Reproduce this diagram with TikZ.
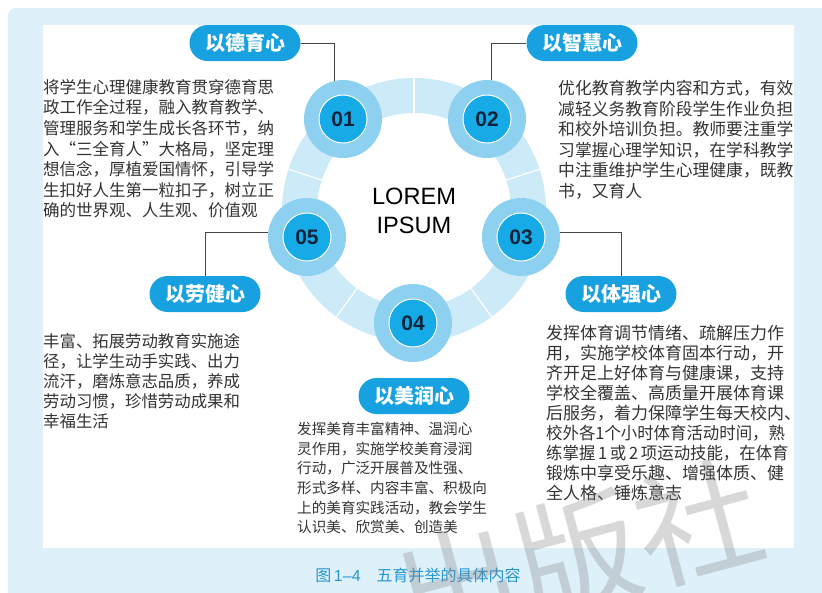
\documentclass[tikz,border=0pt]{standalone}
\usepackage{fontspec}
\setmainfont{Noto Sans CJK SC}
\newfontfamily\latf{Liberation Sans}
\usetikzlibrary{calc}
\definecolor{framebg}{RGB}{222,241,250}
\definecolor{ringblue}{RGB}{205,234,248}
\definecolor{circout}{RGB}{141,208,240}
\definecolor{circin}{RGB}{22,171,230}
\definecolor{pillblue}{RGB}{24,161,224}
\definecolor{conn}{RGB}{70,70,70}
\definecolor{txt}{RGB}{51,51,51}
\definecolor{numc}{RGB}{12,35,60}
\definecolor{capblue}{RGB}{40,150,212}
\begin{document}
\begin{tikzpicture}[x=1pt,y=-1pt,
  outerc/.style={circle,fill=circout,minimum size=78pt,inner sep=0pt},
  innerc/.style={circle,fill=circin,draw=white,line width=1pt,minimum size=48pt,inner sep=0pt,
    text=numc,font=\latf\bfseries\fontsize{21pt}{24pt}\selectfont},
  pill/.style={fill=pillblue,rounded corners=18pt,minimum width=111pt,minimum height=36pt,
    inner sep=0pt,text=white,font=\bfseries\fontsize{20pt}{24pt}\selectfont},
  body/.style={anchor=north west,inner sep=0pt,align=left,text=txt},
  connector/.style={draw=conn,line width=0.9pt}]
\useasboundingbox (0,0) rectangle (822,592);
\fill[white] (0,0) rectangle (822,592);
\fill[framebg,rounded corners=8pt] (8,8) rectangle (850,620);
\fill[white] (43,25) rectangle (794,548);
% ring
\coordinate (ring) at (414,210);
\fill[ringblue,even odd rule] (ring) circle[radius=132pt] (ring) circle[radius=97pt];
\foreach \a in {90,18,-54,-126,162}
  \draw[white,line width=1.2pt] ($(ring)+(-\a:96)$) -- ($(ring)+(-\a:133)$);
% circles
\node[outerc] (c1) at (343,119) {};
\node[outerc] (c2) at (487,119) {};
\node[outerc] (c3) at (521,237) {};
\node[outerc] (c4) at (413,323) {};
\node[outerc] (c5) at (307,237) {};
\node[innerc] (n1) at (c1) {01};
\node[innerc] (n2) at (c2) {02};
\node[innerc] (n3) at (c3) {03};
\node[innerc] (n4) at (c4) {04};
\node[innerc] (n5) at (c5) {05};
% centre text
\node[text={RGB:red,34;green,34;blue,34},font=\latf\fontsize{23.6pt}{29pt}\selectfont,align=center,inner sep=0pt] (center) at (414,211) {LOREM\\IPSUM};
% pills
\node[pill] (p1) at (245,43) {以德育心};
\node[pill] (p2) at (582,43) {以智慧心};
\node[pill] (p3) at (621,294) {以体强心};
\node[pill] (p4) at (414,396) {以美润心};
\node[pill] (p5) at (205,294) {以劳健心};
% connectors
\draw[connector] (p1.east) -| (c1.103);
\draw[connector] (p2.west) -| (c2.84);
\draw[connector] (c3.6) -| (p3.north);
\draw[connector] (c5.174) -| (p5.north);
% text blocks
\node[body,font=\fontsize{16.5pt}{20.6pt}\selectfont] (t1) at (43,79) {将学生心理健康教育贯穿德育思\\政工作全过程，融入教育教学、\\管理服务和学生成长各环节，纳\\入“三全育人”大格局，坚定理\\想信念，厚植爱国情怀，引导学\\生扣好人生第一粒扣子，树立正\\确的世界观、人生观、价值观};
\node[body,font=\fontsize{16.8pt}{20.6pt}\selectfont] (t2) at (558,80) {优化教育教学内容和方式，有效\\减轻义务教育阶段学生作业负担\\和校外培训负担。教师要注重学\\习掌握心理学知识，在学科教学\\中注重维护学生心理健康，既教\\书，又育人};
\node[body,font=\fontsize{17pt}{20pt}\selectfont] (t3) at (546,325) {发挥体育调节情绪、疏解压力作\\用，实施学校体育固本行动，开\\齐开足上好体育与健康课，支持\\学校全覆盖、高质量开展体育课\\后服务，着力保障学生每天校内、\\\scalebox{0.965}[1]{校外各1个小时体育活动时间，熟}\\\scalebox{0.965}[1]{练掌握\,1\,或\,2\,项运动技能，在体育}\\锻炼中享受乐趣、增强体质、健\\全人格、锤炼意志};
\node[body,font=\fontsize{14.6pt}{19.6pt}\selectfont] (t4) at (297,422) {发挥美育丰富精神、温润心\\灵作用，实施学校美育浸润\\行动，广泛开展普及性强、\\形式多样、内容丰富、积极向\\上的美育实践活动，教会学生\\认识美、欣赏美、创造美};
\node[body,font=\fontsize{16.4pt}{20pt}\selectfont] (t5) at (43,333) {丰富、拓展劳动教育实施途\\径，让学生动手实践、出力\\流汗，磨炼意志品质，养成\\劳动习惯，珍惜劳动成果和\\幸福生活};
% caption
\node[text=capblue,font=\fontsize{16pt}{19pt}\selectfont,inner sep=0pt] (cap) at (418,575) {图\,{\latf 1–4}\quad 五育并举的具体内容};
% watermark
\node[text=gray,opacity=0.3,font=\fontsize{125pt}{130pt}\selectfont,rotate=15,inner sep=0pt] (wm) at (578,555) {出版社};
\end{tikzpicture}
\end{document}
